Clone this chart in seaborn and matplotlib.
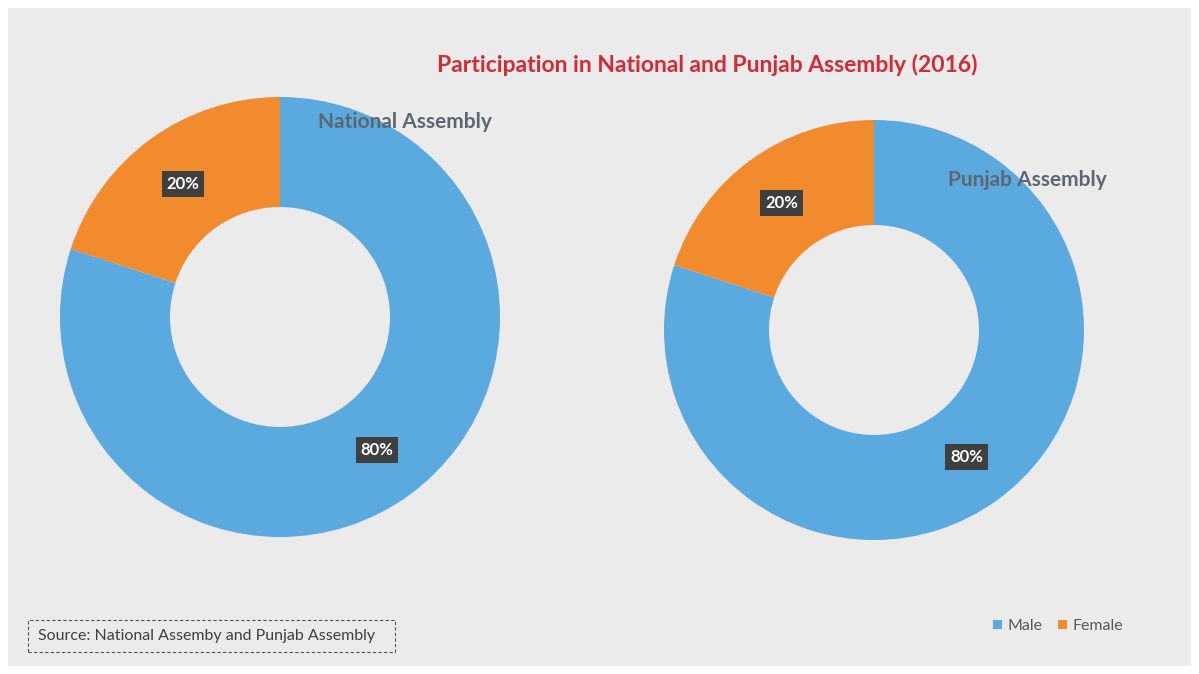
import matplotlib
matplotlib.use("Agg")
import matplotlib.pyplot as plt
from matplotlib.patches import Rectangle, Patch
import seaborn as sns

# ---- data ----
categories = ["Male", "Female"]
national_values = [80, 20]
punjab_values = [80, 20]
chart_title = "Participation in National and Punjab Assembly (2016)"
panel_titles = ["National Assembly", "Punjab Assembly"]
source_text = "Source: National Assemby and Punjab Assembly"

sns.set_theme(style="white")
plt.rcParams['font.family'] = ['Lato', 'DejaVu Sans']

colors = ["#5aa9df", "#f28a2e"]
W, H = 1199, 674
fig = plt.figure(figsize=(W / 100, H / 100), dpi=100)
fig.patch.set_facecolor("white")
fig.patches.append(Rectangle((8 / W, 8 / H), (W - 16) / W, (H - 16) / H,
                             transform=fig.transFigure, facecolor="#ebebeb",
                             edgecolor="none", zorder=-10))


def donut(cx, cy, r, values, title, tx, ty):
    ax = fig.add_axes([(cx - r) / W, (H - cy - r) / H, 2 * r / W, 2 * r / H])
    ax.set_facecolor("none")
    wedges, _, autotexts = ax.pie(
        values, colors=colors, startangle=90, counterclock=False,
        autopct=lambda p: f"{p:.0f}%", pctdistance=0.75,
        wedgeprops=dict(width=0.5, edgecolor="none"))
    for t in autotexts:
        t.set_color("white")
        t.set_fontweight("bold")
        t.set_fontsize(12)
        t.set_bbox(dict(boxstyle="square,pad=0.3", facecolor="#3f3f3f",
                        edgecolor="none"))
    ax.set_xlim(-1, 1)
    ax.set_ylim(-1, 1)
    ax.set_aspect("equal")
    ax.axis("off")
    fig.text(tx / W, 1 - ty / H, title, fontsize=15, fontweight="bold",
             color="#5d6673", ha="left", va="center")


donut(280, 317, 220, national_values, panel_titles[0], 318, 122)
donut(874, 330, 210, punjab_values, panel_titles[1], 948, 180)

fig.text(707 / W, 1 - 65 / H, chart_title, fontsize=16.5, fontweight="bold",
         color="#d42a35", ha="center", va="center")

# source box
fig.patches.append(Rectangle((28 / W, 1 - 652 / H), (395 - 28) / W, 32 / H,
                             transform=fig.transFigure, facecolor="none",
                             edgecolor="#555555", linestyle=(0, (3, 2)),
                             linewidth=0.8))
fig.text(38 / W, 1 - 636 / H, source_text, fontsize=11.5, color="#404040",
         ha="left", va="center")

handles = [Patch(facecolor=c, edgecolor="none") for c in colors]
fig.legend(handles, categories, loc="center", bbox_to_anchor=(1058 / W, 1 - 626 / H),
           ncol=2, frameon=False, fontsize=11.5, handlelength=0.55, handleheight=0.55,
           handletextpad=0.35, columnspacing=1.0, labelcolor="#595959")

fig.savefig("out.png", dpi=100, facecolor=fig.get_facecolor())
